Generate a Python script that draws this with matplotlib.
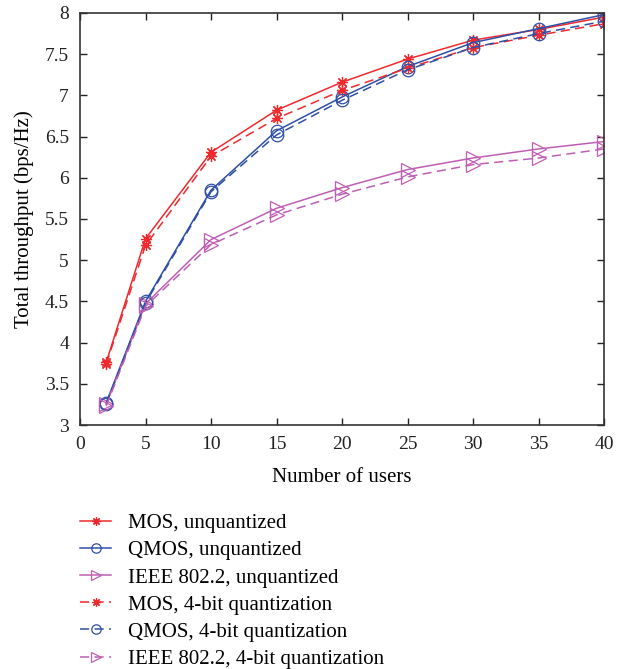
import numpy as np
import matplotlib
matplotlib.use("Agg")
from matplotlib import pyplot as plt

plt.rcParams['font.family'] = ['Liberation Serif', 'DejaVu Serif']

users = [2, 5, 10, 15, 20, 25, 30, 35, 40]

mos_unq = [3.76, 5.26, 6.31, 6.82, 7.16, 7.44, 7.67, 7.80, 7.95]
qmos_unq = [3.27, 4.50, 5.85, 6.57, 6.98, 7.35, 7.64, 7.81, 7.98]
ieee_unq = [3.25, 4.47, 5.25, 5.63, 5.88, 6.10, 6.24, 6.35, 6.44]
mos_4bit = [3.74, 5.18, 6.26, 6.72, 7.06, 7.33, 7.58, 7.73, 7.87]
qmos_4bit = [3.26, 4.48, 5.83, 6.52, 6.94, 7.31, 7.58, 7.75, 7.90]
ieee_4bit = [3.23, 4.44, 5.19, 5.55, 5.80, 6.01, 6.16, 6.24, 6.35]

labels = ['MOS, unquantized', 'QMOS, unquantized', 'IEEE 802.2, unquantized',
          'MOS, 4-bit quantization', 'QMOS, 4-bit quantization',
          'IEEE 802.2, 4-bit quantization']

xticks = [0, 5, 10, 15, 20, 25, 30, 35, 40]
yticks = [3, 3.5, 4, 4.5, 5, 5.5, 6, 6.5, 7, 7.5, 8]
ytick_labels = ['3', '3.5', '4', '4.5', '5', '5.5', '6', '6.5', '7', '7.5', '8']

red = '#ee2a2e'
blue = '#2f4fa6'
mag = '#bf5fb4'

fig = plt.figure(figsize=(6.25, 6.69), dpi=100)
ax = fig.add_axes([0.128, 0.3647, 0.8384, 0.6159])

star = (8, 2, 0)
dash = (0, (6, 3.5))
common = dict(lw=1.1, mew=0.9)
ax.plot(users, mos_unq, ls='-', color=red, marker=star, ms=8, label=labels[0], **common)
ax.plot(users, qmos_unq, ls='-', color=blue, marker='o', ms=9, mfc='none', label=labels[1], **common)
ax.plot(users, ieee_unq, ls='-', color=mag, marker='>', ms=10, mfc='none', label=labels[2], **common)
ax.plot(users, mos_4bit, ls=dash, color=red, marker=star, ms=8, label=labels[3], **common)
ax.plot(users, qmos_4bit, ls=dash, color=blue, marker='o', ms=9, mfc='none', label=labels[4], **common)
ax.plot(users, ieee_4bit, ls=dash, color=mag, marker='>', ms=10, mfc='none', label=labels[5], **common)

ax.set_xlim(0, 40)
ax.set_ylim(3, 8)
ax.set_xticks(xticks)
ax.set_yticks(yticks)
ax.set_yticklabels(ytick_labels)
ax.tick_params(direction='in', top=True, right=True, labelsize=14, length=5, width=1,
               colors='#222222', pad=8)
for s in ax.spines.values():
    s.set_linewidth(1.2)
    s.set_color('#333333')

ax.set_xlabel('Number of users', fontsize=15, labelpad=11)
ax.set_ylabel('Total throughput (bps/Hz)', fontsize=15, labelpad=8)

handles, labs = ax.get_legend_handles_labels()
leg = fig.legend(handles, labs, loc='upper left', bbox_to_anchor=(0.128, 0.232),
                 frameon=False, fontsize=15, borderpad=0, borderaxespad=0,
                 handlelength=1.5, handletextpad=0.8, labelspacing=0.36, markerscale=0.75)

fig.savefig('out.png', dpi=100)
